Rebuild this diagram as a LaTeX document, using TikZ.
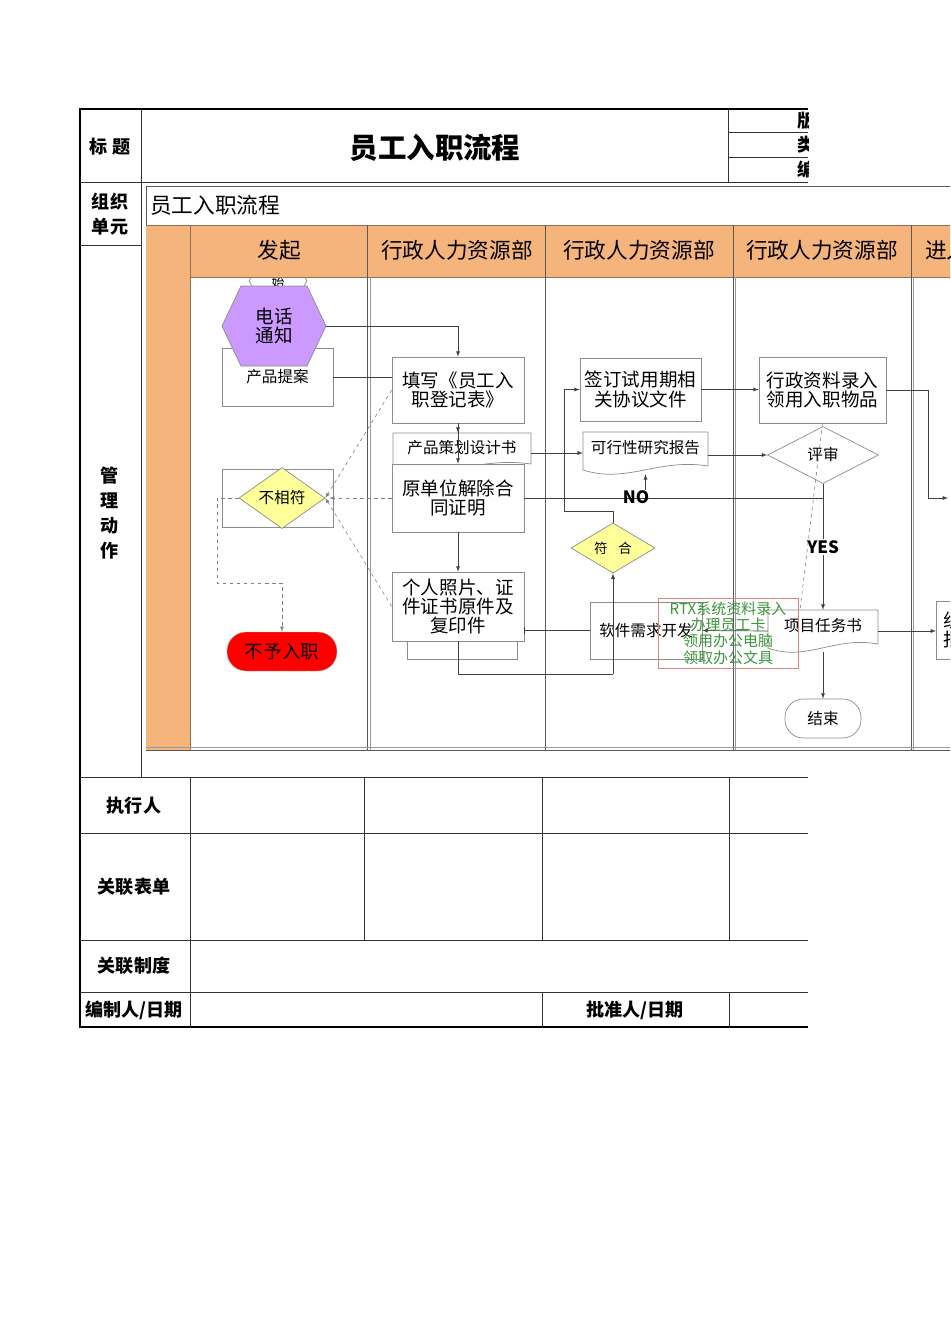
\documentclass[tikz,border=0pt]{standalone}
\usepackage{fontspec}
\setmainfont{Noto Sans CJK SC}
\usetikzlibrary{arrows, calc, positioning, shapes.geometric}

\definecolor{laneorange}{RGB}{244,180,124}
\definecolor{laneedge}{RGB}{150,110,80}
\definecolor{hexpurple}{RGB}{204,153,255}
\definecolor{diayellow}{RGB}{255,255,153}
\definecolor{notegreen}{RGB}{60,150,60}
\definecolor{notered}{RGB}{225,130,130}

\newcommand{\titlefont}{\fontsize{24.3}{28}\selectfont\bfseries}
\newcommand{\labfont}{\fontsize{15.4}{22}\selectfont\bfseries}
\newcommand{\headfont}{\fontsize{18.5}{22}\selectfont}
\newcommand{\boxfont}{\fontsize{15.8}{16.4}\selectfont}
\newcommand{\smallfont}{\fontsize{13.3}{15}\selectfont}

\newcommand{\docnode}[6]{%
  \draw[docline] ({#2-#4/2},{#3-#5/2}) -- ({#2+#4/2},{#3-#5/2}) -- ({#2+#4/2},{#3+#5/2-8})
    .. controls ({#2+0.1*#4},{#3+#5/2-16}) and ({#2-0.15*#4},{#3+#5/2+10}) .. ({#2-#4/2},{#3+#5/2-4}) -- cycle;
  \node (#1) [docnode, sz={#4}{#5}] at (#2,#3) {#6};}

\begin{document}
\begin{tikzpicture}[x=0.03cm, y=-0.03cm,
    every node/.style={inner sep=0pt},
    sz/.style 2 args={minimum width=#1*0.03cm, minimum height=#2*0.03cm},
    frame/.style={line width=1.8pt, black},
    grid/.style={line width=0.7pt, black!80},
    tablabel/.style={font=\labfont, align=center},
    lanehead/.style={font=\headfont},
    lanesep/.style={line width=0.7pt, black!65},
    procbox/.style={draw=black!45, line width=0.6pt, fill=white, rectangle, align=center, font=\boxfont},
    docline/.style={draw=black!45, line width=0.6pt, fill=white},
    docnode/.style={rectangle, align=center, font=\smallfont, text depth=10pt},
    decide/.style={diamond, draw=black!45, line width=0.6pt, align=center, font=\smallfont},
    conn/.style={draw=black!75, line width=0.6pt},
    arr/.style={conn, -latex},
    dashconn/.style={draw=black!50, dashed, line width=0.5pt}
]
    \useasboundingbox (0,0) rectangle (950,1344);
    \clip (0,0) rectangle (950,1344);

    \draw[frame] (808,109) -- (80,109) -- (80,1027) -- (808,1027);
    \draw[grid] (80,182) -- (808,182);
    \draw[grid] (141,109) -- (141,777);
    \draw[grid] (728,109) -- (728,182);
    \draw[grid] (80,245) -- (141,245);
    \foreach \yy in {132,157}
    {
        \draw[grid] (728,\yy) -- (808,\yy);
    }
    \foreach \yy in {777,833,940,992}
    {
        \draw[grid] (80,\yy) -- (808,\yy);
    }
    \draw[grid] (190,777) -- (190,1027);
    \foreach \xx in {364,542,729}
    {
        \draw[grid] (\xx,777) -- (\xx,940);
    }
    \foreach \xx in {542,729}
    {
        \draw[grid] (\xx,992) -- (\xx,1027);
    }

    \node (lbltitle) [tablabel] at (110,147) {标\ 题};
    \node (doctitle) [font=\titlefont] at (435,148) {员工入职流程};
    \node (lblorg) [tablabel] at (110,214) {组织\\单元};
    \node (lblaction) [tablabel, font=\fontsize{15.4}{21.3}\selectfont\bfseries] at (110,513) {管\\理\\动\\作};
    \node (lblexec) [tablabel] at (134,806) {执行人};
    \node (lblform) [tablabel] at (134,887) {关联表单};
    \node (lblrule) [tablabel] at (134,966) {关联制度};
    \node (lblauthor) [tablabel] at (134,1010) {编制人/日期};
    \node (lblapprove) [tablabel] at (635,1010) {批准人/日期};

    \begin{scope}
        \clip (728,109) rectangle (808,182);
        \node (lblversion) [tablabel, anchor=west] at (797,121) {版本};
        \node (lblclass) [tablabel, anchor=west] at (797,145) {类别};
        \node (lblnumber) [tablabel, anchor=west] at (797,170) {编号};
    \end{scope}

    \draw[lanesep, fill=white] (146,186) rectangle (1000,750);
    \node (pooltitle) [anchor=west, font=\headfont] at (150,205) {员工入职流程};

    \draw[docline] (249,281) -- (254,272) -- (302,272) -- (307,281) -- (302,289) -- (254,289) -- cycle;
    \node (kaishi) [font=\fontsize{11}{13}\selectfont, align=center] at (278,275) {开\\始};

    \fill[laneorange] (146,225) rectangle (1000,277);
    \fill[laneorange] (146,277) rectangle (190,750);
    \draw[laneedge, line width=0.6pt] (146,225) -- (1000,225);
    \draw[laneedge, line width=0.6pt] (190,277) -- (1000,277);
    \draw[laneedge, line width=0.6pt] (190,225) -- (190,750);
    \foreach \xx in {367,545,733,911}
    {
        \draw[lanesep] (\xx,225) -- (\xx,750);
    }
    \foreach \xx in {370,735,913}
    {
        \draw[lanesep, black!40] (\xx,277) -- (\xx,750);
    }
    \draw[lanesep, black!40] (146,747) -- (1000,747);

    \foreach \lname/\xx/\ltxt in {lanestart/279/发起, laneadmin/457/行政人力资源部, lanesign/639/行政人力资源部, lanerecord/822/行政人力资源部}
    {
        \node (\lname) [lanehead] at (\xx,250) {\ltxt};
    }
    \node (laneenter) [lanehead, anchor=west] at (925,250) {进入部门};

    \node (chanpin) [procbox, font=\smallfont, sz={111}{58}] at (277.5,377) {产品提案};
    \draw[docline, fill=hexpurple] (222,326) -- (241,286) -- (307,286) -- (326,326) -- (307,366) -- (241,366) -- cycle;
    \node (dianhua) [sz={104}{80}, align=center, font=\boxfont] at (274,326) {电话\\通知};
    \node (buxiangbox) [procbox, sz={111}{58}] at (277.5,498) {};
    \node (buxiangfu) [decide, fill=diayellow, sz={86}{45}] at (282,498) {不相符};
    \node (buyu) [draw=black!30, fill=red, rounded corners=0.57cm, sz={110}{39}, font=\boxfont] at (282,651.5) {不予入职};

    \node (tianxie) [procbox, sz={132}{66}] at (458,390) {填写《员工入\\职登记表》};
    \docnode{cehua}{462}{452.5}{138}{39}{产品策划设计书}
    \node (yuandanwei) [procbox, sz={132}{68}] at (458,498) {原单位解除合\\同证明};
    \draw[docline] (407,600) rectangle (517,659);
    \node (geren) [procbox, sz={132}{69}] at (458,606.5) {个人照片、证\\件证书原件及\\复印件};

    \node (qianding) [procbox, sz={121}{63}] at (640.5,389.5) {签订试用期相\\关协议文件};
    \docnode{kexing}{645.5}{453}{125}{42}{可行性研究报告}
    \node (fuhe) [decide, fill=diayellow, font=\fontsize{11.5}{13}\selectfont, sz={84}{44}] at (613,548) {符\hspace{0.8em}合};
    \node (ruanjian) [procbox, fill=none, font=\smallfont, sz={112}{57}] at (646,630.5) {软件需求开发};

    \node (xingzheng) [procbox, sz={127}{66}] at (822.5,390) {行政资料录入\\领用入职物品};
    \node (pingshen) [decide, fill=white, sz={111}{57}] at (823,455) {评审};
    \docnode{xiangmu}{823}{631}{110}{42}{项目任务书}
    \node (jieshu) [draw=black!45, line width=0.6pt, rounded corners=0.55cm, font=\smallfont, sz={76}{39}] at (823,718.5) {结束};
    \node (nextbox) [procbox, anchor=west, align=left, inner xsep=7*0.03cm, minimum height=58*0.03cm] at (936,630) {组织\\报到};

    \draw[arr] (dianhua.east) -| (tianxie.north);
    \draw[conn] (chanpin.east) -- (chanpin.east -| tianxie.west);
    \draw[arr] (tianxie.south) -- (tianxie.south |- cehua.north);
    \draw[arr] (tianxie.south) -- (yuandanwei.north);
    \draw[arr] (cehua.east |- kexing.west) -- (kexing.west);
    \draw[arr] (yuandanwei.south) -- (geren.north);
    \coordinate (lowbend) at (613,674);
    \draw[conn] (geren.south) |- (lowbend);
    \draw[arr] (lowbend) -- (fuhe.south);
    \draw[conn, -|] (ruanjian.west) -- (ruanjian.west -| geren.east);
    \coordinate (fuhebend) at (564,511);
    \draw[arr] (fuhe.north) |- (fuhebend) |- (qianding.west);
    \draw[arr] (qianding.east) -- (qianding.east -| xingzheng.west);
    \draw[arr] (kexing.east |- pingshen.west) -- (pingshen.west);
    \draw[conn] (pingshen.south) |- (yuandanwei.east);
    \draw[dashconn, -latex, shorten >=4*0.03cm] (yuandanwei.west) -- (buxiangfu.east);
    \draw[dashconn, -latex] (tianxie.west) -- (buxiangfu.east);
    \draw[dashconn, -latex] (geren.west) -- (buxiangfu.east);
    \coordinate (rejbend) at (217,583);
    \draw[dashconn, -latex] (buxiangfu.west) -| (rejbend) -| (buyu.north);

    \node (nolabel) [font=\fontsize{14.5}{16}\selectfont\bfseries] at (636,497) {NO};
    \draw[arr] (nolabel.north -| kexing.south) -- (kexing.south);
    \draw[arr] (pingshen.south) -- node (yeslabel) [fill=white, inner sep=1pt, font=\fontsize{14.5}{16}\selectfont\bfseries] {YES} (xiangmu.north);
    \draw[dashconn] (xingzheng.south) -- ($(xiangmu.north)+(-23,0)$);
    \draw[arr] (xiangmu.south) -- (jieshu.north);
    \draw[arr] (xiangmu.west) -- (ruanjian.east);
    \coordinate (rightbend) at (928,498);
    \coordinate (offright) at (948,498);
    \draw[arr] (xingzheng.east) -| (rightbend) -- (offright);
    \draw[arr] (xiangmu.east) -- (xiangmu.east -| nextbox.west);

    \node (rtxnote) [draw=notered, line width=0.5pt, text=notegreen, align=center, font=\fontsize{12.8}{14}\selectfont, sz={140}{70}] at (728,633) {RTX系统资料录入\\办理员工卡\\领用办公电脑\\领取办公文具};
\end{tikzpicture}
\end{document}
